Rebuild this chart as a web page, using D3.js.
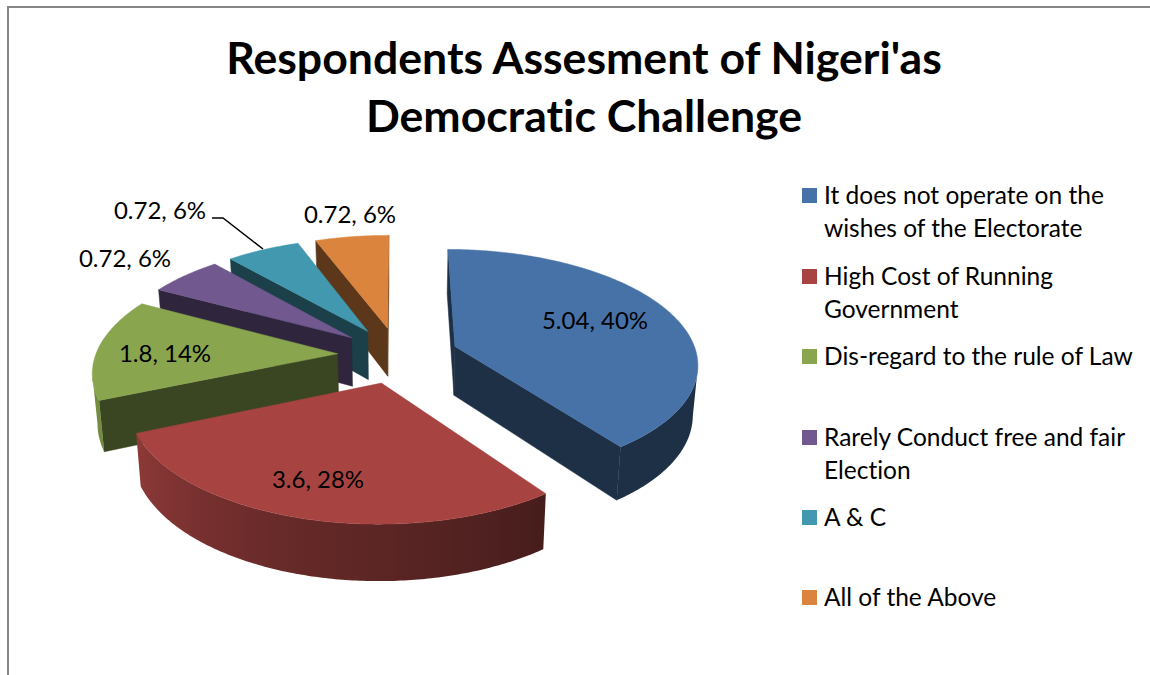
<!DOCTYPE html>
<html><head><meta charset="utf-8">
<script src="https://cdn.jsdelivr.net/npm/d3@7/dist/d3.min.js"></script>
<style>html,body{margin:0;padding:0;background:#fff}svg{display:block}text{font-family:Lato,"Open Sans",sans-serif;fill:#000;font-variant-ligatures:none}</style>
</head><body><svg id="c" width="1150" height="675"></svg>
<script>
const titleLines = ["Respondents Assesment of Nigeri'as", "Democratic Challenge"];
const categories = [
  ["It does not operate on the", "wishes of the Electorate"],
  ["High Cost of Running", "Government"],
  ["Dis-regard to the rule of Law"],
  ["Rarely Conduct free and fair", "Election"],
  ["A & C"],
  ["All of the Above"]
];
const values = [5.04, 3.6, 1.8, 0.72, 0.72, 0.72];
const percents = [40, 28, 14, 6, 6, 6];
const colors = ["#4672A7", "#A74442", "#89A54E", "#71588F", "#4198AF", "#DB843D"];

// layout only
const labelAnchor = [[595,329],[318,488],[165,362],[125,267],[160,219],[350,223]];
const legendY = [188,269,349,430,510,590];
const P = {cx:398, cy:355, A:242, B:112.7, p:0.1395, explode:0.25, shrink:0.983, depthK:1.046, depth:49.2};

const svg = d3.select("#c");
const defs = svg.append("defs");
const project = (X,Y) => {
  const s = 1/(1 - P.p*Y);
  return [P.A*X*s, P.B*Y*s];
};
const top3 = (X,Y) => { const [dx,dy]=project(X,Y); return [P.cx+dx, P.cy+dy]; };
const bot3 = (X,Y) => { const [dx,dy]=project(X,Y); return [P.cx+dx*P.shrink, P.cy+dy*P.depthK+P.depth]; };

const arcs = d3.pie().sort(null).value(d=>d).startAngle(0).endAngle(2*Math.PI)(values);
const line = d3.line();
const radialShade = 0.42;
const wallShade = d3.scaleLinear()
  .domain([0,144,200,247,360].map(d=>d*Math.PI/180)).range([radialShade,radialShade,0.62,0.85,0.85]);
const shade = (c,k)=>{const r=d3.rgb(c);return d3.rgb(r.r*k,r.g*k,r.b*k).formatHex();};

const slices = arcs.map((a,i)=>{
  const mid=(a.startAngle+a.endAngle)/2;
  return {a,i,mid,ox:P.explode*Math.sin(mid),oy:-P.explode*Math.cos(mid)};
}).sort((u,v)=>u.oy-v.oy);

const g = svg.append("g");
slices.forEach(s=>{
  const c=colors[s.i];
  const pt=(fn,t)=>fn(s.ox+Math.sin(t), s.oy-Math.cos(t));
  const ang=d3.range(s.a.startAngle,s.a.endAngle,0.012).concat([s.a.endAngle]);
  const apexT=top3(s.ox,s.oy), apexB=bot3(s.ox,s.oy);
  const gs=g.append("g");
  // radial faces
  [[s.a.startAngle,-1],[s.a.endAngle,1]].forEach(([t,sign])=>{
    const rT=pt(top3,t), rB=pt(bot3,t);
    const cross=(rT[0]-apexT[0])*(apexB[1]-apexT[1])-(rT[1]-apexT[1])*(apexB[0]-apexT[0]);
    if(cross*sign>0){
      gs.append("path").attr("d",line([apexT,rT,rB,apexB])+"Z")
        .attr("fill",shade(c,radialShade)).attr("stroke",shade(c,radialShade)).attr("stroke-width",0.5);
    }
  });
  // outer wall: the visible run of angles, filled with a horizontal gradient
  const vis=ang.filter((t,k)=>{
    const nx=pt(top3,ang[Math.min(k+1,ang.length-1)])[0], px=pt(top3,ang[Math.max(k-1,0)])[0];
    return nx<px;
  });
  if(vis.length>1){
    const id="wall"+s.i;
    const xs=vis.map(t=>pt(top3,t)[0]);
    const x0=d3.min(xs), x1=d3.max(xs);
    const lg=defs.append("linearGradient").attr("id",id).attr("gradientUnits","userSpaceOnUse")
      .attr("x1",x0).attr("x2",x1).attr("y1",0).attr("y2",0);
    const stops=vis.filter((t,k)=>k%6===0||k===vis.length-1).slice().reverse();
    stops.forEach(t=>lg.append("stop")
      .attr("offset",(pt(top3,t)[0]-x0)/(x1-x0))
      .attr("stop-color",shade(c,wallShade(t))));
    const outline=[...vis.map(t=>pt(top3,t)),...vis.slice().reverse().map(t=>pt(bot3,t))];
    gs.append("path").attr("d",line(outline)+"Z").attr("fill",`url(#${id})`);
  }
  // top
  const rim=ang.map(t=>pt(top3,t));
  gs.append("path").attr("d",line([apexT,...rim])+"Z").attr("fill",c).attr("stroke",c).attr("stroke-width",0.5);
});

// frame
svg.append("path").attr("d","M8,675V7H1150").attr("fill","none").attr("stroke","#868686").attr("stroke-width",2);

// title
svg.append("g").selectAll("text").data(titleLines).join("text")
  .attr("x",584).attr("y",(d,i)=>74+i*58).attr("text-anchor","middle")
  .attr("font-size",44.6).attr("font-weight",700).text(d=>d);

// data labels
svg.append("g").selectAll("text").data(values).join("text")
  .attr("x",(d,i)=>labelAnchor[i][0]).attr("y",(d,i)=>labelAnchor[i][1])
  .attr("text-anchor","middle").attr("font-size",24)
  .text((d,i)=>`${d}, ${percents[i]}%`);
svg.append("path").attr("d",line([[212,218],[223,218],[263,249]])).attr("fill","none").attr("stroke","#000").attr("stroke-width",1.5);

// legend
const lg=svg.append("g").selectAll("g").data(categories).join("g").attr("transform",(d,i)=>`translate(802,${legendY[i]})`);
lg.append("rect").attr("width",15).attr("height",15).attr("fill",(d,i)=>colors[i]);
lg.selectAll("text").data(d=>d).join("text").attr("x",22).attr("y",(d,i)=>16+i*33).attr("font-size",24.5).text(d=>d);
</script></body></html>
